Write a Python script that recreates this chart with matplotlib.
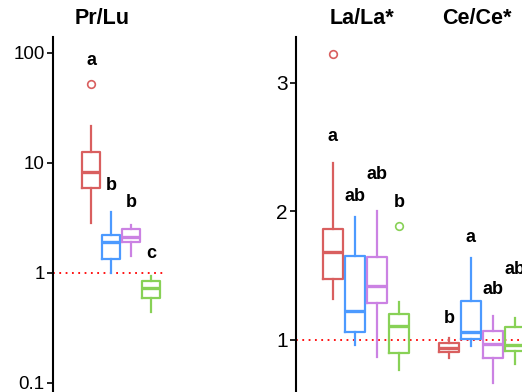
import matplotlib
matplotlib.use('Agg')
import matplotlib.pyplot as plt
import matplotlib.transforms as mtransforms

plt.rcParams['font.family'] = ['Liberation Sans', 'DejaVu Sans']

# colours of the four groups (same order in every panel)
colors = ['#D95F5F', '#4C9AFF', '#CB82E3', '#88D156']

# box stats: (low whisker, Q1, median, Q3, high whisker)
prlu_stats = [(2.85, 5.9, 8.3, 12.6, 21.7),
              (1.0, 1.34, 1.9, 2.2, 3.59),
              (1.43, 1.9, 2.12, 2.5, 2.73),
              (0.44, 0.59, 0.73, 0.85, 0.94)]
prlu_fliers = [[52], [], [], []]
prlu_letters = ['a', 'b', 'b', 'c']
prlu_letter_y = [86, 6.3, 4.4, 1.49]

la_stats = [(1.317, 1.472, 1.685, 1.866, 2.375),
            (0.961, 1.065, 1.226, 1.656, 1.955),
            (0.870, 1.285, 1.423, 1.643, 2.004),
            (0.767, 0.896, 1.109, 1.2, 1.293)]
la_fliers = [[3.226], [], [], [1.887]]
la_letters = ['a', 'ab', 'ab', 'b']
la_letter_y = [2.58, 2.115, 2.284, 2.068]

ce_stats = [(0.857, 0.904, 0.94, 0.974, 1.013),
            (0.953, 1.005, 1.065, 1.303, 1.641),
            (0.668, 0.857, 0.966, 1.072, 1.187),
            (0.813, 0.917, 0.961, 1.099, 1.169)]
ce_fliers = [[], [], [], []]
ce_letters = ['b', 'a', 'ab', 'ab']
ce_letter_y = [1.169, 1.799, 1.395, 1.55]

offsets = [-0.285, -0.095, 0.095, 0.285]
box_w = 0.17


def draw_group(ax, center, stats, fliers, letters, letter_y):
    for i, (s, fl) in enumerate(zip(stats, fliers)):
        c = colors[i]
        st = dict(whislo=s[0], q1=s[1], med=s[2], q3=s[3], whishi=s[4], fliers=fl)
        ax.bxp([st], positions=[center + offsets[i]], widths=box_w,
               showcaps=False,
               boxprops=dict(color=c, lw=1.6),
               whiskerprops=dict(color=c, lw=1.6),
               medianprops=dict(color=c, lw=2.4, solid_capstyle='butt'),
               flierprops=dict(marker='o', mfc='none', mec=c, ms=5.5, mew=1.2),
               manage_ticks=False)
        ax.text(center + offsets[i], letter_y[i], letters[i], ha='center',
                va='center', fontsize=13, fontweight='bold')


def style(ax, size):
    for sp in ['top', 'right', 'bottom']:
        ax.spines[sp].set_visible(False)
    ax.spines['left'].set_linewidth(1.5)
    ax.tick_params(axis='y', labelsize=size, width=1.2, length=4, pad=2)
    ax.set_xticks([])
    ax.axhline(1, color='red', ls=(0, (1, 2.5)), lw=1.3, zorder=0)


fig = plt.figure(figsize=(5.22, 3.92), dpi=100)

# left panel (log scale)
ax1 = fig.add_axes([53 / 522, -18 / 392, 112 / 522, 373 / 392])
ax1.set_yscale('log')
ax1.set_ylim(0.0568, 139.7)
ax1.set_xlim(-0.648, 0.419)
ax1.set_yticks([0.1, 1, 10, 100])
ax1.set_yticklabels(['0.1', '1', '10', '100'])
ax1.minorticks_off()
style(ax1, 13.5)
draw_group(ax1, 0, prlu_stats, prlu_fliers, prlu_letters, prlu_letter_y)

# right panel (linear)
ax2 = fig.add_axes([296 / 522, -18 / 392, 226 / 522, 373 / 392])
ax2.set_ylim(0.455, 3.358)
ax2.set_xlim(-0.603, 1.345)
ax2.set_yticks([1, 2, 3])
style(ax2, 15)
draw_group(ax2, 0, la_stats, la_fliers, la_letters, la_letter_y)
draw_group(ax2, 1, ce_stats, ce_fliers, ce_letters, ce_letter_y)

title_y = 1 - 19 / 392
t1 = mtransforms.blended_transform_factory(ax1.transData, fig.transFigure)
ax1.text(-0.18, title_y, 'Pr/Lu', transform=t1, ha='center', va='center',
         fontsize=15.5, fontweight='bold')
t2 = mtransforms.blended_transform_factory(ax2.transData, fig.transFigure)
ax2.text(-0.035, title_y, 'La/La*', transform=t2, ha='center', va='center',
         fontsize=15.5, fontweight='bold')
ax2.text(0.96, title_y, 'Ce/Ce*', transform=t2, ha='center', va='center',
         fontsize=15.5, fontweight='bold')

fig.savefig('out.png', dpi=100)
